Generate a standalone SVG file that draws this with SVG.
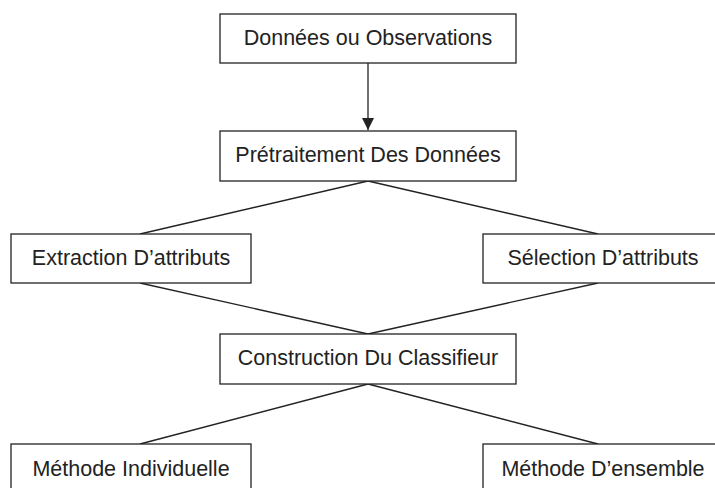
<svg xmlns="http://www.w3.org/2000/svg" width="715" height="488" viewBox="0 0 715 488">
<style>
.box{fill:#fff;stroke:#222;stroke-width:1.3}
.lbl{font-family:"Liberation Sans",Arial,sans-serif;font-size:21.5px;fill:#222;text-anchor:middle}
.conn{stroke:#222;stroke-width:1.3;fill:none}
</style>
<defs>
<marker id="arr" viewBox="0 0 12 12" refX="12" refY="6" markerWidth="12" markerHeight="12" markerUnits="userSpaceOnUse" orient="auto">
<path d="M0,0 L12,6 L0,12 z" fill="#222"/>
</marker>
</defs>
<rect width="715" height="488" fill="#fff"/>
<g id="connectors">
<line class="conn" x1="368" y1="63" x2="368" y2="130" marker-end="url(#arr)"/>
<line class="conn" x1="368" y1="181" x2="140" y2="234"/>
<line class="conn" x1="368" y1="181" x2="598" y2="234"/>
<line class="conn" x1="140" y1="283" x2="368" y2="334"/>
<line class="conn" x1="598" y1="283" x2="368" y2="334"/>
<line class="conn" x1="368" y1="384" x2="140" y2="444"/>
<line class="conn" x1="368" y1="384" x2="598" y2="444"/>
</g>
<g id="n1"><rect class="box" x="220" y="14" width="296" height="49"/><text class="lbl" x="368" y="45">Données ou Observations</text></g>
<g id="n2"><rect class="box" x="220" y="131" width="296" height="50"/><text class="lbl" x="368" y="162">Prétraitement Des Données</text></g>
<g id="n3"><rect class="box" x="11" y="234" width="240" height="49"/><text class="lbl" x="131" y="265">Extraction D’attributs</text></g>
<g id="n4"><rect class="box" x="483" y="234" width="240" height="49"/><text class="lbl" x="603" y="265">Sélection D’attributs</text></g>
<g id="n5"><rect class="box" x="220" y="334" width="296" height="50"/><text class="lbl" x="368" y="365">Construction Du Classifieur</text></g>
<g id="n6"><rect class="box" x="11" y="444" width="240" height="49"/><text class="lbl" x="131" y="476">Méthode Individuelle</text></g>
<g id="n7"><rect class="box" x="483" y="444" width="240" height="49"/><text class="lbl" x="603" y="476">Méthode D’ensemble</text></g>
</svg>
